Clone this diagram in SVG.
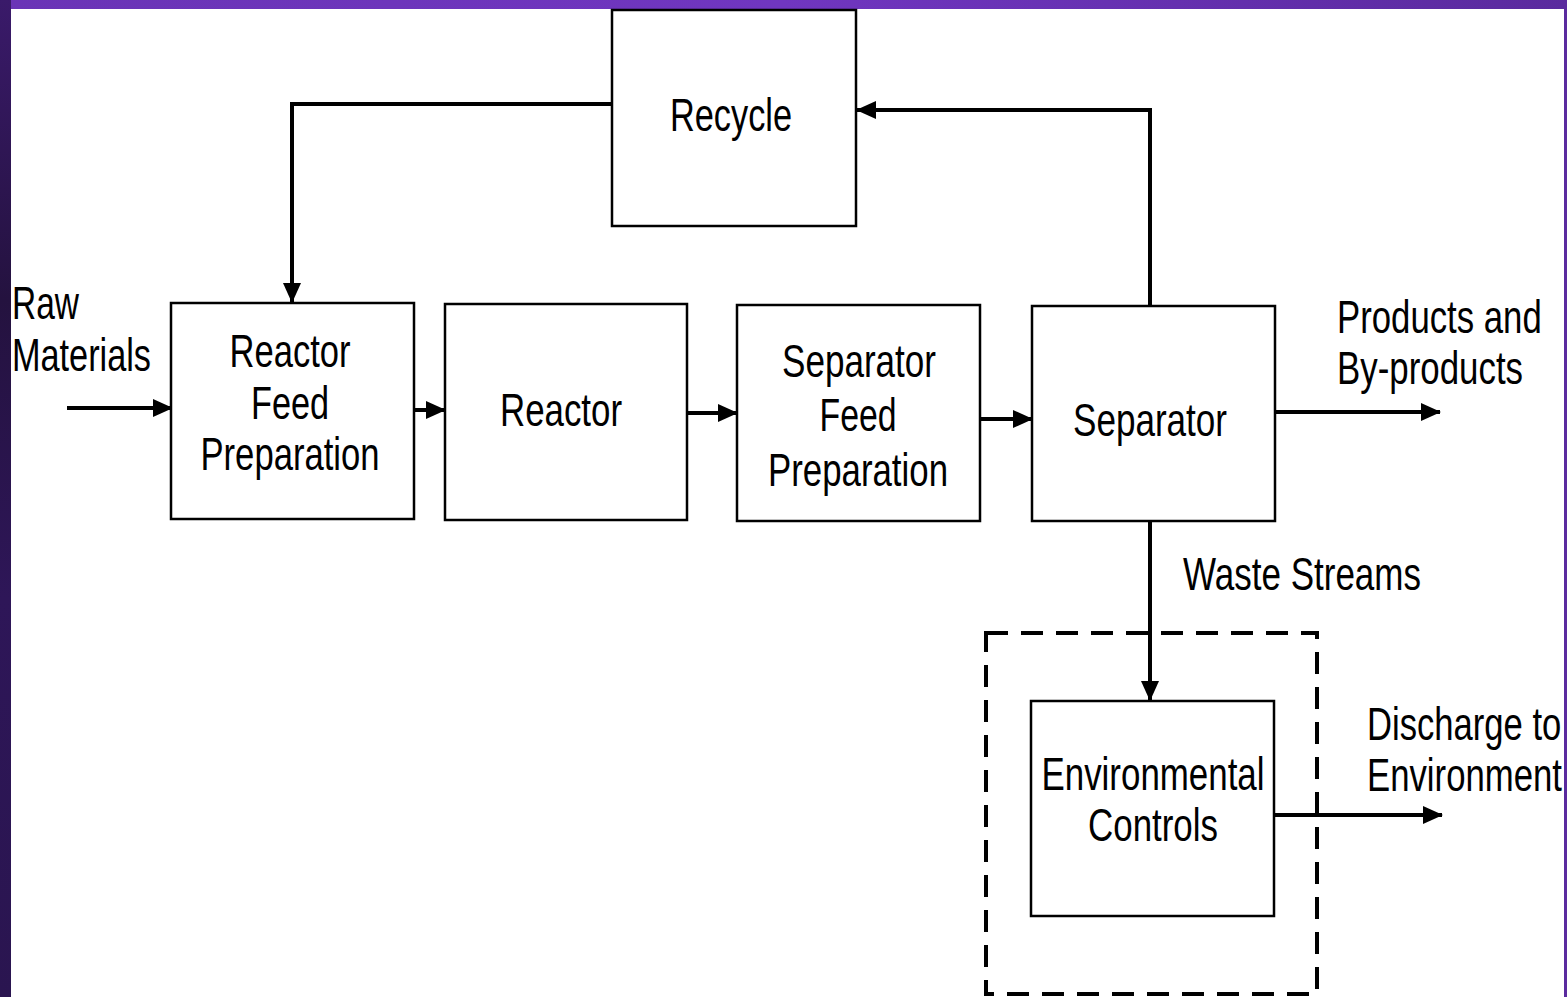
<svg xmlns="http://www.w3.org/2000/svg" width="1567" height="997" viewBox="0 0 1567 997">
  <defs>
    <linearGradient id="topBand" x1="0" y1="0" x2="1" y2="0">
      <stop offset="0" stop-color="#6a34b6"/>
      <stop offset="0.5" stop-color="#7036c0"/>
      <stop offset="1" stop-color="#5a2a9e"/>
    </linearGradient>
    <linearGradient id="leftBand" x1="0" y1="0" x2="0" y2="1">
      <stop offset="0" stop-color="#3a1a6a"/>
      <stop offset="0.3" stop-color="#24123f"/>
      <stop offset="0.6" stop-color="#2e1658"/>
      <stop offset="1" stop-color="#2a1550"/>
    </linearGradient>
    <marker id="arrow" markerUnits="userSpaceOnUse" markerWidth="20" markerHeight="18" refX="19" refY="9" orient="auto">
      <path d="M0,0 L20,9 L0,18 Z" fill="#000"/>
    </marker>
  </defs>
  <style>
    .box { fill: #fff; stroke: #000; stroke-width: 2.5; }
    .flow { fill: none; stroke: #000; stroke-width: 4; }
    .boundary { fill: none; stroke: #000; stroke-width: 4; stroke-dasharray: 22 13; }
    text { font-family: "Liberation Sans", Arial, sans-serif; font-size: 46px; fill: #000; }
    .c { text-anchor: middle; }
  </style>

  <!-- page background and frame -->
  <rect x="0" y="0" width="1567" height="997" fill="#fff"/>
  <rect x="0" y="0" width="1567" height="9" fill="url(#topBand)"/>
  <rect x="0" y="0" width="11" height="997" fill="url(#leftBand)"/>
  <rect x="1564" y="0" width="3" height="997" fill="#5a2a9e"/>

  <!-- environmental control boundary -->
  <rect class="boundary" x="986" y="633" width="331" height="361"/>

  <!-- connectors -->
  <g id="connectors">
    <path class="flow" d="M612,104 H292 V302" marker-end="url(#arrow)"/>
    <path class="flow" d="M1150,305 V110 H857" marker-end="url(#arrow)"/>
    <path class="flow" d="M67,408 H172" marker-end="url(#arrow)"/>
    <path class="flow" d="M414,410 H445" marker-end="url(#arrow)"/>
    <path class="flow" d="M687,413 H737" marker-end="url(#arrow)"/>
    <path class="flow" d="M980,419 H1032" marker-end="url(#arrow)"/>
    <path class="flow" d="M1275,412 H1440" marker-end="url(#arrow)"/>
    <path class="flow" d="M1150,521 V700" marker-end="url(#arrow)"/>
    <path class="flow" d="M1274,815 H1442" marker-end="url(#arrow)"/>
  </g>

  <!-- process units -->
  <g id="recycle">
    <rect class="box" x="612" y="10" width="244" height="216"/>
    <text class="c" x="731" y="131" textLength="122" lengthAdjust="spacingAndGlyphs">Recycle</text>
  </g>
  <g id="reactor-feed-preparation">
    <rect class="box" x="171" y="303" width="243" height="216"/>
    <text class="c" x="290" y="367" textLength="121" lengthAdjust="spacingAndGlyphs">Reactor</text>
    <text class="c" x="290" y="419" textLength="78" lengthAdjust="spacingAndGlyphs">Feed</text>
    <text class="c" x="290" y="470" textLength="179" lengthAdjust="spacingAndGlyphs">Preparation</text>
  </g>
  <g id="reactor">
    <rect class="box" x="445" y="304" width="242" height="216"/>
    <text class="c" x="561" y="426" textLength="122" lengthAdjust="spacingAndGlyphs">Reactor</text>
  </g>
  <g id="separator-feed-preparation">
    <rect class="box" x="737" y="305" width="243" height="216"/>
    <text class="c" x="859" y="377" textLength="154" lengthAdjust="spacingAndGlyphs">Separator</text>
    <text class="c" x="858" y="431" textLength="77" lengthAdjust="spacingAndGlyphs">Feed</text>
    <text class="c" x="858" y="486" textLength="180" lengthAdjust="spacingAndGlyphs">Preparation</text>
  </g>
  <g id="separator">
    <rect class="box" x="1032" y="306" width="243" height="215"/>
    <text class="c" x="1150" y="436" textLength="154" lengthAdjust="spacingAndGlyphs">Separator</text>
  </g>
  <g id="environmental-controls">
    <rect class="box" x="1031" y="701" width="243" height="215"/>
    <text class="c" x="1153" y="790" textLength="223" lengthAdjust="spacingAndGlyphs">Environmental</text>
    <text class="c" x="1153" y="841" textLength="130" lengthAdjust="spacingAndGlyphs">Controls</text>
  </g>

  <!-- stream labels; the right-hand ones are narrowed by a horizontal scale -->
  <g id="labels">
    <text x="12" y="319" textLength="67" lengthAdjust="spacingAndGlyphs">Raw</text>
    <text x="12" y="371" textLength="139" lengthAdjust="spacingAndGlyphs">Materials</text>
    <text transform="translate(1337,333) scale(0.75,1)" x="0" y="0" textLength="273" lengthAdjust="spacingAndGlyphs">Products and</text>
    <text transform="translate(1337,384) scale(0.75,1)" x="0" y="0" textLength="248" lengthAdjust="spacingAndGlyphs">By-products</text>
    <text x="1183" y="590" textLength="238" lengthAdjust="spacingAndGlyphs">Waste Streams</text>
    <text transform="translate(1367,740) scale(0.75,1)" x="0" y="0" textLength="259" lengthAdjust="spacingAndGlyphs">Discharge to</text>
    <text transform="translate(1367,791) scale(0.75,1)" x="0" y="0" textLength="260" lengthAdjust="spacingAndGlyphs">Environment</text>
  </g>
</svg>
